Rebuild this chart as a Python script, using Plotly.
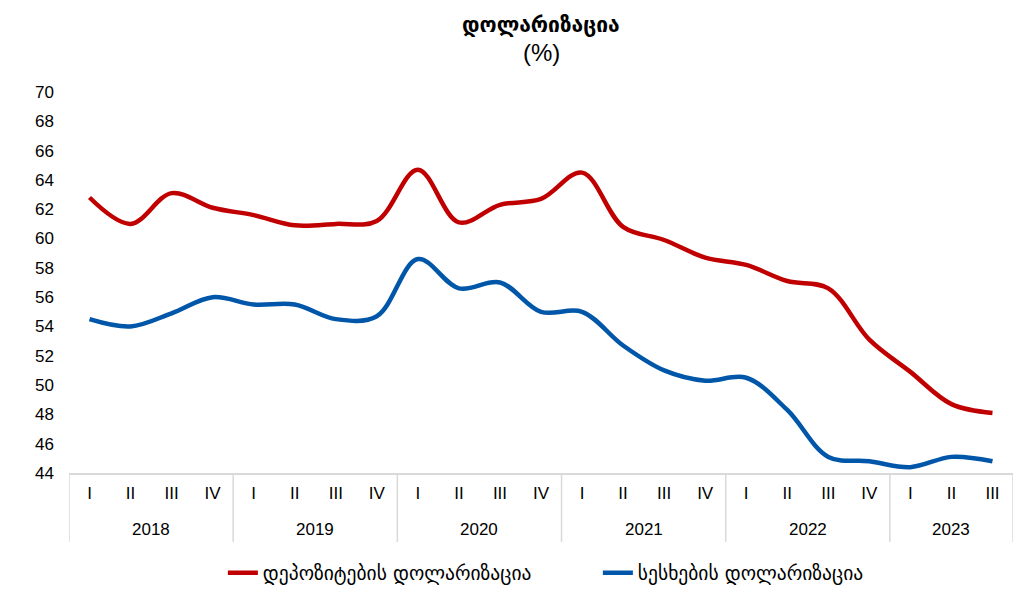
import plotly.graph_objects as go

years = ["2018", "2019", "2020", "2021", "2022", "2023"]
quarters = ["I", "II", "III", "IV"] * 5 + ["I", "II", "III"]
year_of_point = ["2018"] * 4 + ["2019"] * 4 + ["2020"] * 4 + ["2021"] * 4 + ["2022"] * 4 + ["2023"] * 3
categories = [f"{y} {q}" for y, q in zip(year_of_point, quarters)]

deposits = [62.8, 61.0, 63.1, 62.1, 61.6, 60.9, 61.0, 61.2,
            64.7, 61.1, 62.3, 62.7, 64.5, 60.8, 59.9, 58.7,
            58.2, 57.1, 56.6, 53.1, 50.9, 48.7, 48.1]
loans = [54.5, 54.0, 54.9, 56.0, 55.5, 55.5, 54.5, 54.7,
         58.6, 56.6, 57.0, 55.0, 55.0, 52.7, 51.0, 50.3,
         50.5, 48.3, 45.1, 44.8, 44.4, 45.1, 44.8]

names = ["დეპოზიტების დოლარიზაცია", "სესხების დოლარიზაცია"]
colors = ["#C00000", "#0056A8"]

font_family = "Liberation Sans, Arial, DejaVu Sans, sans-serif"
geo_family = "DejaVu Sans, Liberation Sans, sans-serif"

fig = go.Figure()
for vals, name, col in zip([deposits, loans], names, colors):
    fig.add_trace(go.Scatter(
        x=categories, y=vals, name=name, mode="lines",
        line=dict(color=col, width=4.5, shape="spline", smoothing=1.0),
    ))

# year group dividers and labels
grid_col = "#D9D9D9"
n = len(categories)
boundaries = [-0.5]
start = 0
for yr in years:
    cnt = year_of_point.count(yr)
    end = start + cnt
    boundaries.append(end - 0.5)
    fig.add_annotation(x=(start + end - 1) / 2, y=-0.1496, xref="x", yref="paper",
                       text=yr, showarrow=False, yanchor="middle",
                       font=dict(size=17, family=font_family, color="#000"))
    start = end
for b in boundaries:
    fig.add_shape(type="line", xref="x", yref="paper", x0=b, x1=b, y0=0, y1=-0.181,
                  line=dict(color=grid_col, width=1.5))

# title
fig.add_annotation(x=0.5, y=1.176, xref="paper", yref="paper", showarrow=False,
                   text="<b>დოლარიზაცია</b>", yanchor="middle",
                   font=dict(size=21, family=geo_family, color="#000"))
fig.add_annotation(x=0.5, y=1.103, xref="paper", yref="paper", showarrow=False,
                   text="(%)", yanchor="middle",
                   font=dict(size=24, family=font_family, color="#000"))

fig.update_layout(
    width=1034, height=597,
    paper_bgcolor="white", plot_bgcolor="white",
    margin=dict(l=61, r=29, t=84, b=132, autoexpand=False),
    font=dict(family=font_family, size=17, color="#000000"),
    showlegend=True,
    legend=dict(orientation="h", x=0.163, xanchor="left", y=-0.2625, yanchor="middle",
                font=dict(size=19.5, family=geo_family),
                entrywidth=330, entrywidthmode="pixels"),
)
fig.update_xaxes(
    type="category", range=[-0.5, n - 0.5], showgrid=False, showline=True,
    linecolor=grid_col, linewidth=1.5, tickmode="array", tickvals=categories,
    ticktext=quarters, tickfont=dict(size=17), ticks="", ticklabelstandoff=4,
    automargin=False,
)
fig.update_yaxes(
    range=[44, 70], dtick=2, tick0=44, showgrid=False, showline=False, zeroline=False,
    tickfont=dict(size=17), ticks="", ticklabelstandoff=14, automargin=False,
)

fig.write_html("out.html")
